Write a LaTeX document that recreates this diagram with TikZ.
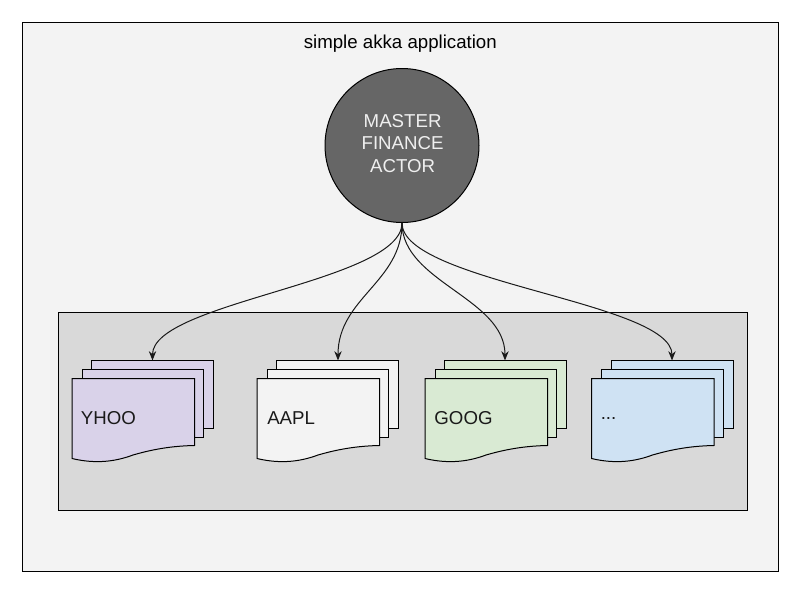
\documentclass[tikz,border=0pt]{standalone}
\usepackage{fontspec}
\setmainfont{Liberation Sans}
\usetikzlibrary{arrows.meta}
\definecolor{outerfill}{HTML}{F3F3F3}
\definecolor{innerfill}{HTML}{D9D9D9}
\definecolor{masterfill}{HTML}{666666}
\definecolor{mastertext}{HTML}{EFEFEF}
\definecolor{lilac}{HTML}{D9D2E9}
\definecolor{paper}{HTML}{F3F3F3}
\definecolor{mint}{HTML}{D9EAD3}
\definecolor{sky}{HTML}{CFE2F3}
\definecolor{ink}{HTML}{1A1A1A}
\newcommand{\docstack}[5]{% name, front left, colour, label, text offset
  \path[sheet,fill=#3] (#2+19.5,360.5) rectangle (#2+141.5,428.5);
  \path[sheet,fill=#3] (#2+10,369.5) rectangle (#2+131.5,437.5);
  \path[sheet,fill=#3]
    (#2,378.5) -- (#2+122.5,378.5) -- (#2+122.5,445.5)
    .. controls (#2+95,446) and (#2+75,451) .. (#2+61,455)
    .. controls (#2+45,461) and (#2+25,464.5) .. (#2,458.5) -- cycle;
  \node[doclabel] (#1) at (#2+#5,418.5) {#4};
}
\tikzset{
  sheet/.style={draw=black,line width=0.75pt},
  doclabel/.style={anchor=west,inner sep=0pt,font=\fontsize{14pt}{16pt}\selectfont,text=ink},
  link/.style={draw=ink,line width=0.75pt,-{Stealth[length=7pt,width=5.5pt]}}
}
\begin{document}
\begin{tikzpicture}[x=0.75pt,y=-0.75pt]
\useasboundingbox (0,0) rectangle (800,600);
\node[draw=black,line width=0.75pt,fill=outerfill,minimum width=567pt,minimum height=412pt,inner sep=0pt,anchor=north west] (outer) at (22,22) {};
\node[anchor=center,inner sep=0pt,font=\fontsize{14pt}{16pt}\selectfont,text=black] (title) at (400.3,43.5) {simple akka application};
\node[draw=black,line width=0.75pt,fill=innerfill,minimum width=516.75pt,minimum height=148.5pt,inner sep=0pt,anchor=north west] (inner) at (58,312) {};
\node[circle,draw=black,line width=0.75pt,fill=masterfill,minimum size=115.5pt,inner sep=0pt] (master) at (402,145.5) {};
\node[inner sep=0pt,align=center,text=mastertext,font=\fontsize{14pt}{16.6pt}\selectfont] (masterlabel) at (402.6,143.5) {MASTER\\FINANCE\\ACTOR};
\docstack{yhoo}{72}{lilac}{YHOO}{8.6}
\docstack{aapl}{257}{paper}{AAPL}{10}
\docstack{goog}{425}{mint}{GOOG}{9.2}
\docstack{more}{591.5}{sky}{...}{9}
\coordinate (yhooin) at (152.5,360.5);
\coordinate (aaplin) at (338,360.5);
\coordinate (googin) at (505,360.5);
\coordinate (morein) at (672,360.5);
\draw[link] (master.south) .. controls (402,282) and (152.5,302) .. (yhooin);
\draw[link] (master.south) .. controls (402,282) and (338,298) .. (aaplin);
\draw[link] (master.south) .. controls (402,282) and (505,298) .. (googin);
\draw[link] (master.south) .. controls (402,282) and (672,302) .. (morein);
\end{tikzpicture}
\end{document}
